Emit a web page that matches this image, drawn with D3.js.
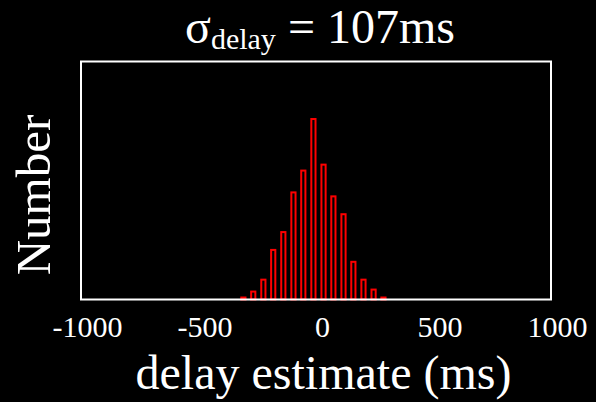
<!DOCTYPE html>
<html><head><meta charset="utf-8">
<script src="https://cdn.jsdelivr.net/npm/d3@7"></script>
<style>
html,body{margin:0;padding:0;background:#000;}
svg{display:block;}
text{font-family:"Liberation Serif","Times New Roman",serif;fill:#fff;}
</style></head>
<body>
<svg id="chart" width="596" height="402"></svg>
<script>
// Data
const binCenters = [-309, -267, -224, -182, -139, -96, -54, -11, 32, 74, 117, 159, 202, 245, 287];
const counts     = [1, 4, 10, 25, 34, 54, 65, 91, 68, 52, 43, 19, 10, 5, 1];
const xTicks = [-1000, -500, 0, 500, 1000];
const xDomain = [-1000, 1000];
const yDomain = [0, 120];
const binWidth = 42.5;
const titleMain = "σ";
const titleSub = "delay";
const titleRest = " = 107ms";
const xLabel = "delay estimate (ms)";
const yLabel = "Number";

(function(){
const svg = d3.select("#chart");
svg.append("rect").attr("width",596).attr("height",402).attr("fill","#000");

const pl = 81, pr = 551, pt = 61.5, pb = 299.5;
const x = d3.scaleLinear().domain(xDomain).range([pl, pr]);
const y = d3.scaleLinear().domain(yDomain).range([pb, pt]);

const barW = x(binWidth * 0.42) - x(0);
svg.append("g").selectAll("rect").data(binCenters).join("rect")
  .attr("x", (d) => x(d) - barW/2)
  .attr("width", barW)
  .attr("y", (d,i) => y(counts[i]))
  .attr("height", (d,i) => y(0) - y(counts[i]))
  .attr("fill","none")
  .attr("stroke","#ff0000")
  .attr("stroke-width",2);

// axes box
svg.append("rect").attr("x",pl).attr("y",pt).attr("width",pr-pl).attr("height",pb-pt)
  .attr("fill","none").attr("stroke","#fff").attr("stroke-width",2);

const xAxis = d3.axisBottom(x).tickValues(xTicks).tickSize(0).tickPadding(0).tickFormat((d) => String(d));
const gx = svg.append("g").attr("transform",`translate(6,${pb})`).call(xAxis);
gx.select(".domain").remove();
gx.selectAll("text").attr("font-size",30).attr("fill","#fff")
  .attr("font-family",'"Liberation Serif","Times New Roman",serif')
  .attr("dy",null).attr("y",37.5);

// title
const t = svg.append("text").attr("x",320).attr("y",43).attr("text-anchor","middle").attr("font-size",48);
t.append("tspan").text(titleMain);
t.append("tspan").attr("font-size",30).attr("dy",6).text(titleSub);
t.append("tspan").attr("dy",-6).text(titleRest);

// x label
svg.append("text").attr("x",323.5).attr("y",389).attr("text-anchor","middle").attr("font-size",48).text(xLabel);
// y label
svg.append("text").attr("transform","translate(50,195) rotate(-90)").attr("text-anchor","middle").attr("font-size",49).text(yLabel);
})();
</script>
</body></html>
